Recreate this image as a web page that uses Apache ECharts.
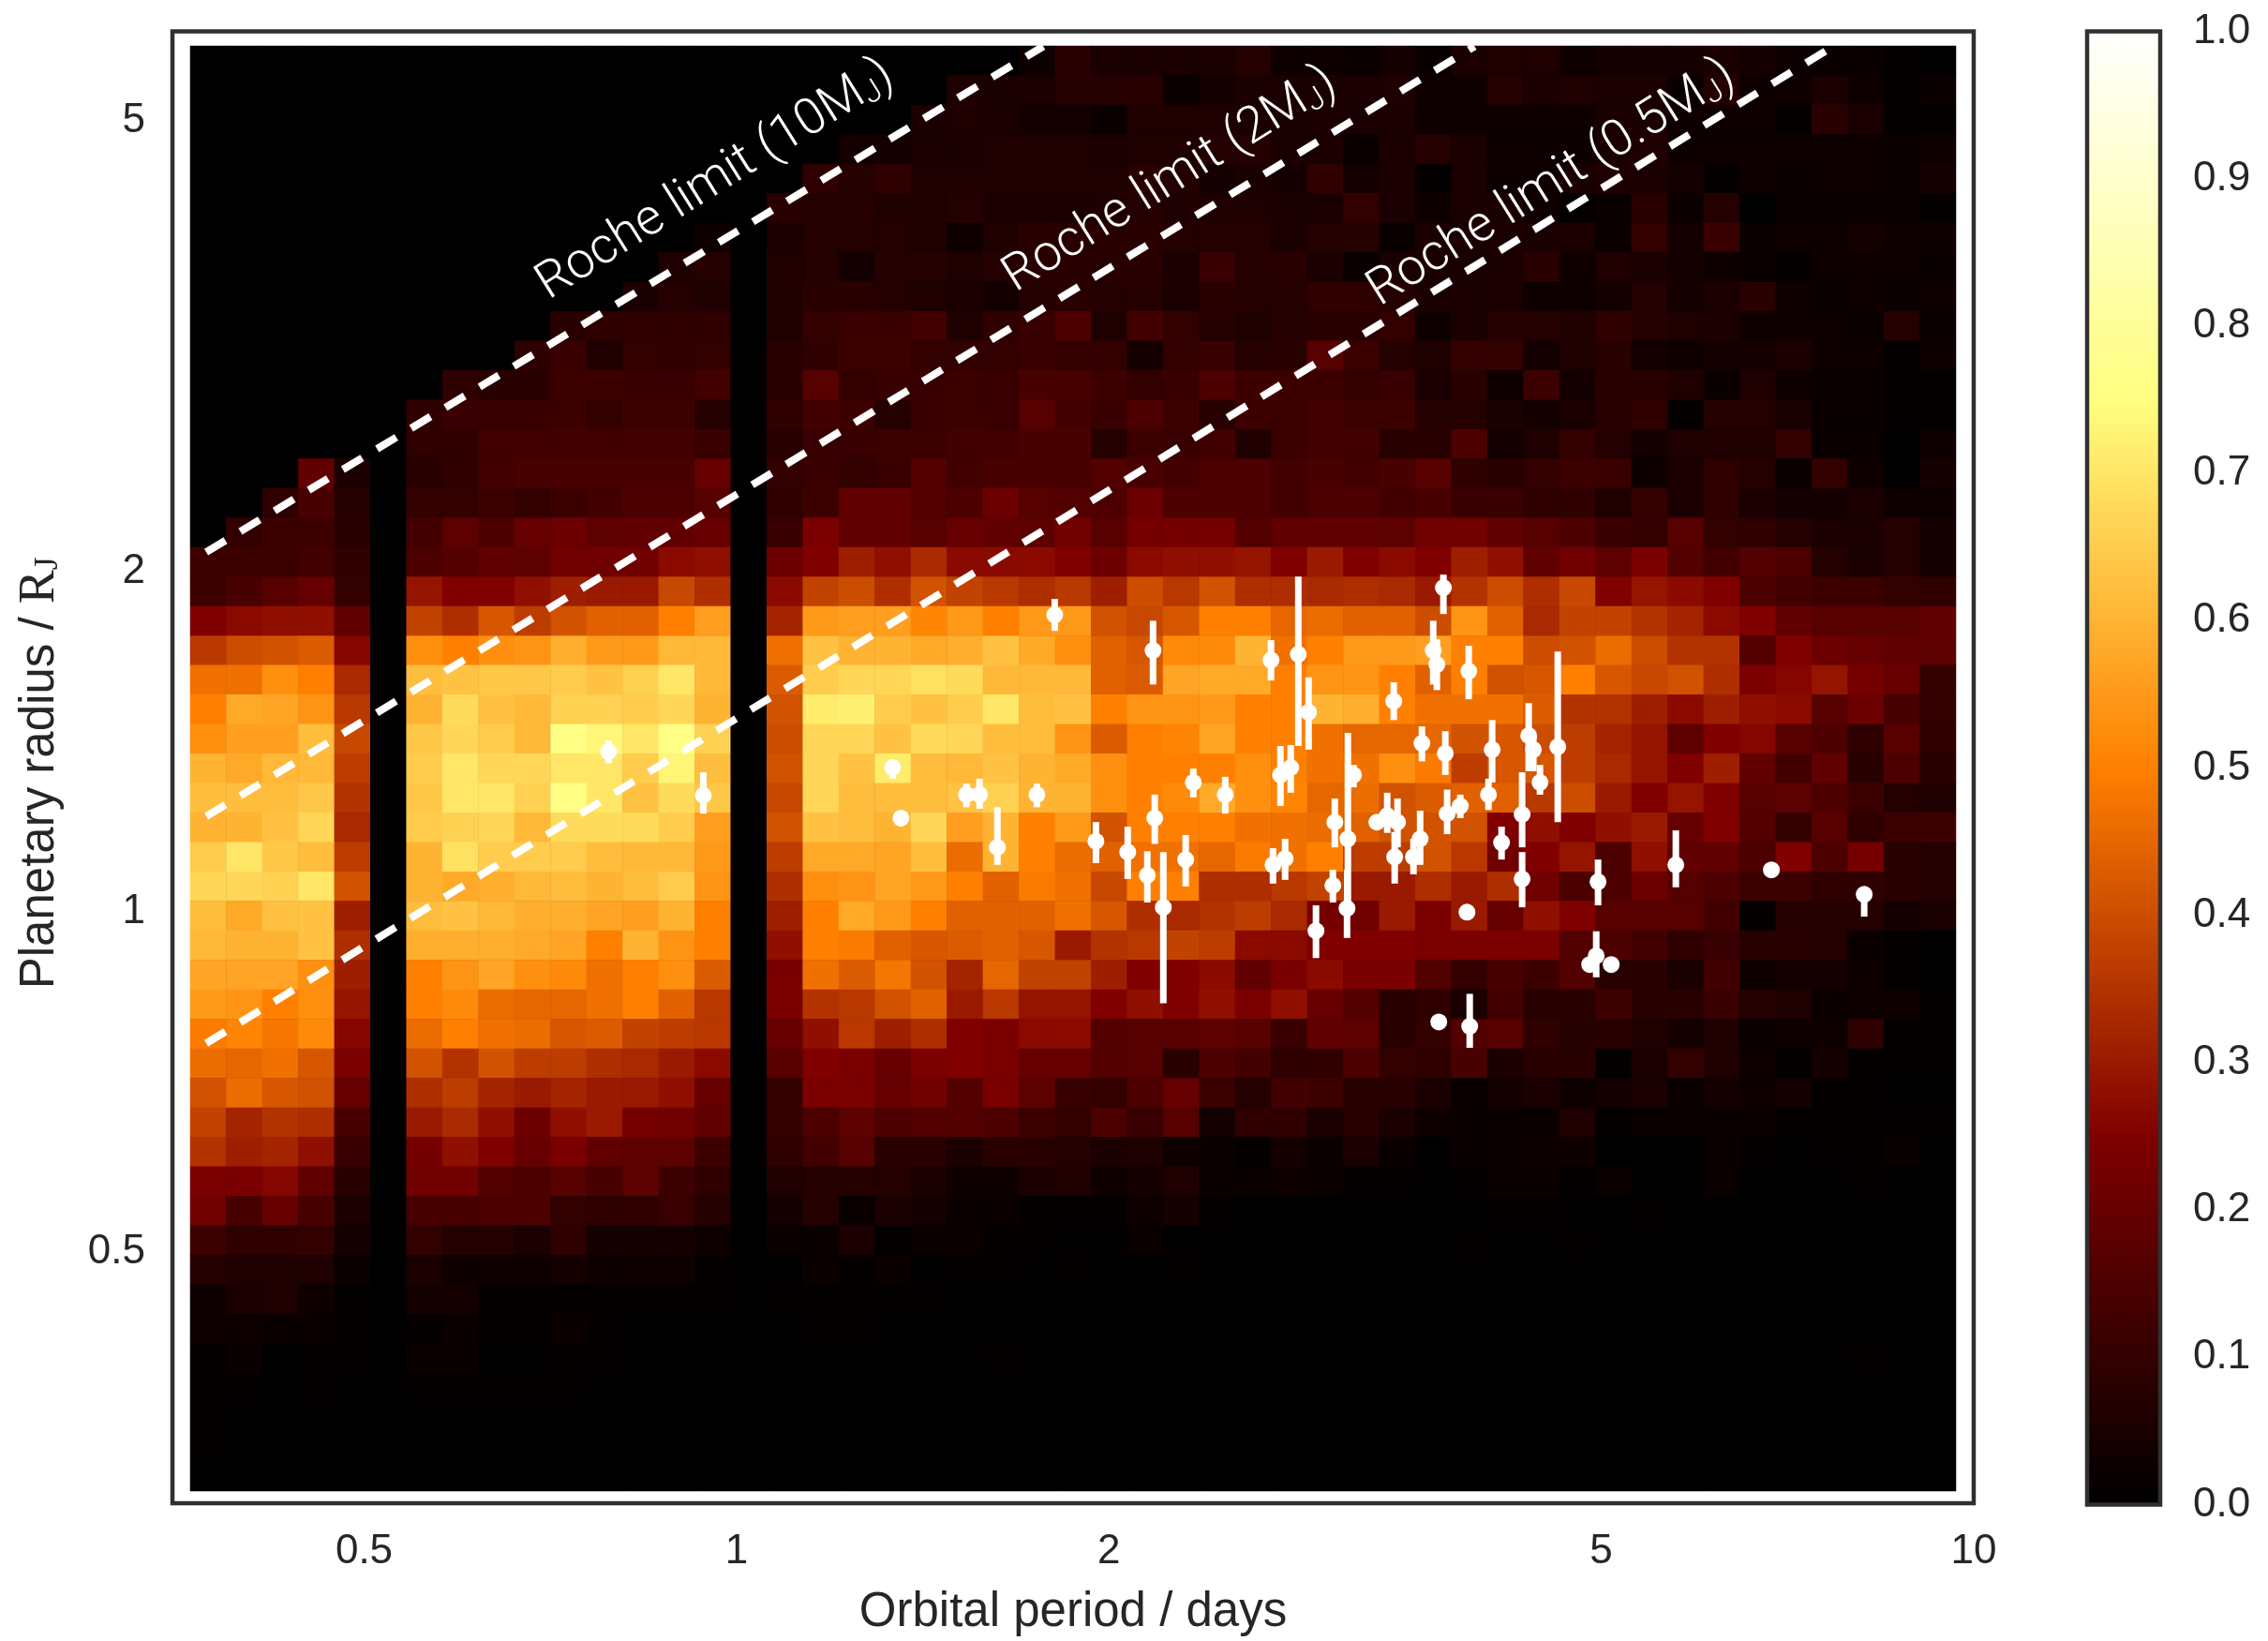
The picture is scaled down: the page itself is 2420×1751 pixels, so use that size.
<!DOCTYPE html>
<html><head><meta charset="utf-8">
<style>html,body{margin:0;padding:0;background:#fff}#c{width:2420px;height:1751px}</style>
<script src="https://cdn.jsdelivr.net/npm/echarts@6/dist/echarts.min.js"></script>
</head><body><div id="c"></div>
<script>
// Normalised density x100, one row per radius bin (top row first), one column per period bin
const densityRows = [
[0,0,0,0,0,0,0,0,0,0,0,0,0,0,0,0,0,0,0,0,0,0,0,3,8,5,5,5,5,7,3,3,2,4,2,5,6,6,3,4,4,4,5,4,3,2,2,1,0],
[0,0,0,0,0,0,0,0,0,0,0,0,0,0,0,0,0,0,0,0,0,6,5,5,7,7,8,2,4,5,5,5,5,6,3,3,7,5,6,5,5,2,7,3,3,5,3,1,2],
[0,0,0,0,0,0,0,0,0,0,0,0,0,0,0,0,0,0,0,0,5,6,5,4,4,2,6,6,6,5,5,5,5,5,3,3,3,3,3,5,5,3,3,3,1,8,5,1,1],
[0,0,0,0,0,0,0,0,0,0,0,0,0,0,0,0,0,0,4,4,5,5,6,6,6,5,6,6,7,7,5,5,2,5,7,5,3,3,3,5,6,3,3,3,3,3,3,2,3],
[0,0,0,0,0,0,0,0,0,0,0,0,0,0,0,0,0,9,7,9,6,6,6,6,6,6,8,7,4,5,4,9,4,5,1,5,3,3,5,6,5,4,1,3,2,3,3,2,4],
[0,0,0,0,0,0,0,0,0,0,0,0,0,0,0,0,8,7,7,6,6,7,5,5,5,6,7,6,6,6,5,5,10,5,3,5,5,3,1,2,8,2,7,0,2,2,2,2,1],
[0,0,0,0,0,0,0,0,0,0,0,0,0,0,3,0,5,7,7,7,6,3,6,8,8,8,8,7,7,7,5,7,7,2,5,5,5,5,5,2,10,4,11,2,3,3,4,3,3],
[0,0,0,0,0,0,0,0,0,0,0,0,0,6,7,0,6,7,4,7,7,6,7,8,8,8,8,5,11,7,8,5,2,5,5,5,5,8,3,6,5,4,3,2,1,3,3,3,2],
[0,0,0,0,0,0,0,0,0,0,0,0,5,7,6,0,6,8,8,7,6,5,4,7,8,7,7,5,8,7,7,9,9,7,5,5,5,3,3,4,7,4,5,8,3,2,3,2,3],
[0,0,0,0,0,0,0,0,0,0,8,9,9,9,9,0,6,10,11,11,13,6,9,11,15,6,13,10,7,6,7,8,8,10,3,5,7,7,6,9,7,6,5,3,3,3,2,7,2],
[0,0,0,0,0,0,0,0,0,9,11,6,10,9,10,0,8,9,12,12,10,10,10,11,10,10,4,10,11,7,8,17,12,7,6,10,10,4,6,8,4,3,4,4,5,3,3,1,3],
[0,0,0,0,0,0,0,9,8,8,12,12,11,11,13,0,8,17,10,11,11,12,11,14,14,12,10,11,15,12,12,12,10,11,5,8,3,12,4,8,8,6,2,6,3,2,2,1,1],
[0,0,0,0,0,0,9,11,11,11,12,10,12,12,7,0,9,13,12,7,11,12,11,17,13,11,15,12,8,12,12,13,12,12,7,7,5,4,5,8,9,1,7,7,5,2,2,1,1],
[0,0,0,0,0,0,9,9,13,13,13,13,13,13,11,0,8,11,11,12,12,13,13,14,14,7,12,11,13,6,12,13,13,8,8,15,4,6,10,7,4,6,6,6,10,2,2,0,3],
[0,0,0,19,5,0,8,9,13,14,14,14,14,14,20,0,10,11,10,11,16,13,14,14,14,16,14,13,15,15,13,14,13,14,17,9,8,10,12,11,3,5,9,7,2,10,3,0,4],
[0,0,9,14,7,0,10,10,12,10,12,13,15,15,17,0,9,12,19,19,16,15,21,17,16,15,21,15,15,15,13,15,15,13,14,11,11,9,9,6,10,5,9,5,4,4,5,3,3],
[0,10,12,12,8,0,13,18,15,20,21,18,19,19,20,0,11,24,19,19,17,20,19,18,22,17,23,23,23,16,19,19,19,18,22,22,19,17,15,11,10,17,10,9,7,5,5,7,4],
[12,12,12,13,9,0,15,16,19,18,22,22,22,27,28,0,21,25,31,28,33,27,27,27,25,21,27,28,28,29,25,30,25,27,25,31,28,19,22,18,24,16,13,16,15,7,5,7,4],
[12,14,17,20,10,0,29,25,25,28,31,30,30,39,34,0,27,38,40,34,41,38,36,34,36,31,40,36,41,34,34,33,34,33,30,35,40,34,39,25,29,27,25,15,13,12,12,10,9],
[25,27,28,28,19,0,38,34,42,37,41,44,44,50,56,0,32,55,56,56,51,55,50,55,55,41,39,42,50,50,45,46,44,44,40,54,44,33,38,38,35,32,27,25,19,17,17,17,19],
[36,40,41,43,26,0,53,50,53,54,59,55,55,61,61,0,47,63,60,60,58,59,63,58,53,44,42,52,52,60,47,50,55,55,56,50,50,40,41,46,40,35,35,16,25,21,20,19,18],
[47,47,53,50,33,0,62,63,64,64,65,63,66,70,61,0,43,65,67,67,69,68,61,61,61,44,43,57,58,58,50,54,54,50,44,50,41,42,50,42,39,41,34,24,26,29,23,20,10],
[50,58,57,54,36,0,60,68,63,61,66,66,65,67,60,0,41,71,72,65,63,65,70,62,63,50,54,54,55,50,50,60,59,50,47,47,47,43,35,35,31,27,31,28,27,17,21,14,10],
[53,56,56,62,39,0,64,67,65,61,76,73,70,76,66,0,40,67,67,63,68,67,62,62,54,43,50,51,57,50,50,47,45,45,45,41,42,40,37,32,29,18,25,26,17,15,9,17,9],
[60,58,61,61,37,0,65,70,67,67,70,70,65,73,62,0,41,67,63,71,62,61,63,60,58,53,50,50,50,53,50,47,47,53,49,37,42,42,37,33,29,25,31,19,13,19,8,15,8],
[62,62,62,64,35,0,64,70,70,66,76,70,63,68,64,0,39,67,62,62,62,63,66,60,60,53,50,52,58,53,51,45,46,41,43,44,44,36,40,30,25,29,25,17,18,15,12,7,6],
[60,60,63,67,33,0,65,66,67,61,68,68,68,65,56,0,41,63,62,60,67,56,60,50,55,41,50,50,50,47,47,46,44,41,41,41,25,28,25,28,30,20,25,16,10,17,9,12,12],
[65,70,64,62,37,0,60,69,65,65,65,62,61,61,55,0,37,58,58,57,62,46,60,50,46,44,47,47,45,49,47,50,37,37,41,36,22,25,29,15,28,19,19,15,25,15,23,8,7],
[67,67,66,70,41,0,60,58,59,61,62,60,62,65,54,0,34,53,54,57,55,50,44,49,47,39,50,50,34,34,36,38,30,30,34,30,34,22,15,15,21,17,15,12,12,9,9,8,7],
[62,58,63,63,31,0,62,63,61,59,59,57,56,60,50,0,31,50,58,55,50,44,44,44,47,42,34,33,35,37,33,23,22,30,24,30,20,28,25,17,17,17,13,1,7,7,7,4,5],
[61,60,60,63,34,0,59,59,59,58,57,50,60,54,50,0,28,50,49,44,42,43,44,42,30,35,36,38,37,27,27,25,25,25,24,24,24,24,16,15,13,9,11,8,8,7,2,1,0],
[57,57,57,53,31,0,50,54,57,53,52,47,50,53,43,0,24,47,43,48,41,32,45,38,38,31,25,25,27,19,24,27,24,24,16,10,14,12,16,8,8,5,13,3,4,4,3,1,0],
[55,54,50,53,29,0,50,52,46,45,45,47,50,44,36,0,24,35,36,41,44,30,36,29,29,25,28,25,28,24,28,20,16,8,9,5,13,8,8,12,8,8,11,7,6,2,3,3,1],
[49,51,48,52,26,0,46,50,47,46,42,43,38,37,36,0,20,28,36,31,34,25,24,27,27,16,17,17,18,17,11,19,18,8,10,16,17,9,7,8,6,4,6,2,3,3,9,1,1],
[46,45,47,42,24,0,41,35,41,37,37,34,33,30,27,0,17,25,24,20,24,25,24,20,20,16,17,8,15,13,9,9,15,10,9,14,5,8,8,1,5,10,6,3,1,4,1,1,1],
[41,46,42,41,20,0,34,37,32,30,32,30,30,28,20,0,10,24,24,20,22,16,24,18,11,10,15,20,12,7,13,12,8,8,5,2,4,5,3,4,5,2,4,3,4,1,1,0,0],
[38,32,35,34,14,0,30,33,28,21,28,30,23,22,19,0,10,15,18,15,16,16,15,12,10,15,11,17,4,9,9,5,8,5,3,2,2,2,6,1,2,2,2,2,1,1,1,1,1],
[35,31,32,28,11,0,23,28,25,20,24,19,18,18,12,0,9,13,17,8,8,5,8,8,7,5,6,3,2,1,4,2,5,2,0,2,2,3,3,0,0,0,2,1,0,1,1,2,0],
[24,24,26,19,8,0,22,22,16,15,17,14,18,12,9,0,6,7,7,7,5,3,3,5,6,3,4,6,2,2,3,2,1,1,0,1,2,2,1,2,0,0,2,0,0,0,1,0,0],
[22,14,20,14,5,0,14,14,15,15,10,9,9,11,7,0,4,7,2,5,4,2,2,1,1,1,3,4,1,0,0,0,0,0,0,0,1,1,0,0,1,0,0,0,0,0,0,0,0],
[12,9,9,10,4,0,10,7,7,5,9,4,4,4,3,0,2,2,5,1,2,2,1,1,0,0,2,0,0,0,0,0,0,0,0,1,0,0,1,0,0,0,0,0,0,0,0,0,0],
[7,6,6,6,2,0,5,3,3,3,4,3,3,3,1,0,0,2,1,2,0,1,1,0,1,0,0,1,0,0,0,0,0,0,0,0,0,0,0,0,0,0,0,0,0,0,0,0,0],
[3,5,6,3,1,0,4,4,1,1,1,1,1,1,1,0,1,1,1,1,1,0,0,0,0,0,0,0,0,0,0,0,0,0,0,0,0,0,0,0,0,0,0,0,0,0,0,0,0],
[3,3,2,2,1,0,1,2,1,1,2,1,0,0,0,0,0,1,1,0,0,0,0,0,0,0,0,0,0,0,0,0,0,0,0,0,0,0,0,0,0,0,0,0,0,0,0,0,0],
[1,2,0,1,1,0,2,2,0,0,1,1,0,0,0,0,0,0,0,0,0,0,1,0,0,0,0,0,0,0,0,0,0,0,0,0,0,0,0,0,0,0,0,0,0,0,1,0,0],
[1,1,0,1,0,0,1,1,1,1,1,0,0,0,0,0,0,0,0,0,0,0,0,0,0,0,0,0,0,0,0,0,0,0,0,0,0,0,0,0,0,0,0,0,0,0,0,0,0],
[1,0,0,0,0,0,0,0,0,0,0,0,0,0,0,0,0,0,0,0,0,0,0,0,0,0,0,0,0,0,0,0,0,0,0,0,0,0,0,0,0,0,0,0,0,0,0,0,0],
[1,0,0,0,0,0,0,0,0,0,0,0,0,0,0,0,0,0,0,0,0,0,0,0,0,0,0,0,0,0,0,0,0,0,0,0,0,0,0,0,0,0,0,0,0,0,0,0,0],
[0,0,0,0,0,0,0,0,0,0,0,0,0,0,0,0,0,0,0,0,0,0,0,0,0,0,0,0,0,0,0,0,0,0,0,0,0,0,0,0,0,0,0,0,0,0,0,0,0]
];
// Planets: orbital period (days), radius (R_J), lower and upper radius error-bar ends
const planetPeriod = [.788,.940,1.808,2.171,2.704,2.845,2.900,3.398,3.657,3.682,3.727,3.581,3.740,1.337,1.358,1.534,1.572,1.749,1.625,1.952,2.071,2.178,2.148,2.213,2.307,2.340,2.483,2.714,2.776,2.752,2.805,3.153,3.045,3.120,3.115,3.034,2.940,3.293,3.357,3.422,3.404,3.525,3.569,3.753,3.695,3.907,4.081,4.368,4.406,4.461,4.611,4.053,3.846,4.315,4.153,4.315,3.894,4.970,5.744,6.862,8.156,4.953,4.893,5.093,3.914];
const planetRadius = [1.385,1.267,1.830,1.702,1.669,1.689,1.501,1.535,1.702,1.654,1.934,1.409,1.380,1.341,1.210,1.269,1.269,1.269,1.140,1.154,1.129,1.210,1.077,1.009,1.112,1.301,1.269,1.100,1.114,1.321,1.341,1.321,1.200,1.160,1.007,1.055,.962,1.200,1.216,1.200,1.118,1.118,1.160,1.221,.799,1.632,1.391,1.431,1.391,1.301,1.399,1.269,1.240,1.219,1.151,1.069,.999,1.063,1.100,1.089,1.036,.914,.898,.898,.792];
const radiusLow = [1.353,1.221,1.771,1.588,1.601,1.401,1.391,1.477,1.588,1.570,1.833,1.358,1.321,1.311,1.210,1.237,1.233,1.237,1.100,1.104,1.069,1.148,1.019,.830,1.053,1.262,1.221,1.059,1.067,1.240,1.274,1.288,1.140,1.017,.948,1.019,.910,1.200,1.174,1.140,1.059,1.079,1.100,1.171,.799,1.541,1.301,1.331,1.331,1.269,1.200,1.230,1.210,1.140,1.112,1.009,.999,1.013,1.051,1.089,.990,.875,.898,.898,.758];
const radiusHigh = [1.417,1.328,1.890,1.808,1.738,1.978,1.611,1.595,1.808,1.741,1.986,1.458,1.444,1.353,1.210,1.298,1.311,1.298,1.237,1.200,1.189,1.269,1.131,1.129,1.169,1.338,1.316,1.138,1.160,1.401,1.404,1.348,1.259,1.439,1.089,1.089,1.013,1.200,1.274,1.259,1.176,1.160,1.228,1.282,.799,1.718,1.477,1.529,1.431,1.348,1.698,1.311,1.269,1.328,1.189,1.129,.999,1.112,1.180,1.089,1.036,.961,.898,.898,.846];
// Roche limit lines: [period, radius] at both ends
const roche10 = [[.3727,2.079],[1.770,5.82]];
const roche2 = [[.3727,1.214],[3.95,5.82]];
const roche05 = [[.3727,.765],[7.70,5.82]];
const rocheLabelPeriod = [.962,2.243,4.56];
const rocheLabelRadius = [4.43,4.43,4.40];
const rocheLabelMass = ['10','2','0.5'];
const periodTicks = [.5,1,2,5,10];
const radiusTicks = [.5,1,2,5];
const afmhot = ['#000000','#800000','#ff8000','#ffff80','#ffffff'];

const textColor = '#262626', font = 'Liberation Sans';
const cells = [];
densityRows.forEach((row, r) => row.forEach((v, c) => cells.push([c, densityRows.length - 1 - r, v / 100])));
const colIdx = densityRows[0].map((_, i) => String(i));
const rowIdx = densityRows.map((_, i) => String(i));
const frame = { show: true, backgroundColor: 'transparent', borderColor: '#303030', borderWidth: 4.5 };

const chart = echarts.init(document.getElementById('c'), null, { renderer: 'canvas' });
chart.setOption({
  animation: false,
  backgroundColor: '#fff',
  textStyle: { fontFamily: font, color: textColor },
  grid: [
    { left: 203, top: 49, width: 1884, height: 1542, show: true, backgroundColor: '#000', borderWidth: 0 },
    Object.assign({ left: 184, top: 33.5, width: 1922, height: 1572, z: 5 }, frame),
    Object.assign({ left: 2227, top: 33.5, width: 78, height: 1572, z: 8 }, frame)
  ],
  xAxis: [
    { gridIndex: 0, type: 'category', data: colIdx, show: false },
    { gridIndex: 1, type: 'log', min: .35, max: 10, logBase: 2,
      name: 'Orbital period / days', nameLocation: 'middle', nameGap: 91,
      nameTextStyle: { fontSize: 51, color: textColor, fontFamily: font },
      axisLine: { show: false }, splitLine: { show: false }, minorSplitLine: { show: false },
      axisTick: { show: false },
      axisLabel: { customValues: periodTicks, fontSize: 44, color: textColor, margin: 30, fontFamily: font,
                   showMinLabel: true, showMaxLabel: true, hideOverlap: false, formatter: v => String(v) } },
    { gridIndex: 2, type: 'value', min: 0, max: 1, show: false }
  ],
  yAxis: [
    { gridIndex: 0, type: 'category', data: rowIdx, show: false },
    { gridIndex: 1, type: 'log', min: .3, max: 6, logBase: 2,
      name: 'Planetary radius / {r|R}{j|J}', nameLocation: 'middle', nameRotate: 90, nameGap: 114,
      nameTextStyle: { fontSize: 51, color: textColor, fontFamily: font, padding: [0, 12, 0, 0],
        rich: { r: { fontSize: 54, fontFamily: 'Liberation Serif', color: textColor },
                j: { fontSize: 36, fontFamily: 'Liberation Serif', color: textColor, verticalAlign: 'bottom' } } },
      axisLine: { show: false }, splitLine: { show: false }, minorSplitLine: { show: false },
      axisTick: { show: false },
      axisLabel: { customValues: radiusTicks, fontSize: 44, color: textColor, margin: 29, fontFamily: font,
                   hideOverlap: false, formatter: v => String(v) } },
    { gridIndex: 2, type: 'value', min: 0, max: 1, interval: .1, position: 'right',
      axisLine: { show: false }, axisTick: { show: false }, splitLine: { show: false },
      axisLabel: { fontSize: 44, color: textColor, margin: 35, fontFamily: font, padding: [0, 0, 8, 0],
                   formatter: v => v.toFixed(1) } }
  ],
  visualMap: [{
    type: 'continuous', seriesIndex: 0, min: 0, max: 1, calculable: false, hoverLink: false,
    itemWidth: 78, itemHeight: 1572, left: 2227, top: 33.5, padding: 0, text: null, showLabel: false,
    inRange: { color: afmhot }, z: 4
  }],
  series: [
    { type: 'heatmap', xAxisIndex: 0, yAxisIndex: 0, data: cells, progressive: 0, z: 1,
      itemStyle: { borderWidth: 0 }, emphasis: { disabled: true } },
    ...[roche10, roche2, roche05].map(d => ({
      type: 'line', xAxisIndex: 1, yAxisIndex: 1, data: d, symbol: 'none', z: 3, silent: true,
      lineStyle: { color: '#fff', width: 8, type: [24, 18.6], cap: 'butt', opacity: 1 } })),
    { type: 'custom', xAxisIndex: 1, yAxisIndex: 1, z: 4, silent: true, clip: false,
      data: planetPeriod.map((p, i) => [p, radiusLow[i], radiusHigh[i]]),
      encode: { x: 0, y: [1, 2] },
      renderItem: (params, api) => {
        const a = api.coord([api.value(0), api.value(1)]), b = api.coord([api.value(0), api.value(2)]);
        return { type: 'line', shape: { x1: a[0], y1: a[1], x2: b[0], y2: b[1] },
                 style: { stroke: '#fff', lineWidth: 7, lineCap: 'butt' } };
      } },
    { type: 'scatter', xAxisIndex: 1, yAxisIndex: 1, z: 5, silent: true, symbol: 'circle', symbolSize: 18,
      itemStyle: { color: '#fff', opacity: 1 }, data: planetPeriod.map((p, i) => [p, planetRadius[i]]) },
    { type: 'scatter', xAxisIndex: 1, yAxisIndex: 1, z: 6, silent: true, symbol: 'circle', symbolSize: 1,
      itemStyle: { color: 'transparent', opacity: 1 },
      data: rocheLabelPeriod.map((p, i) => ({ value: [p, rocheLabelRadius[i]], mass: rocheLabelMass[i] })),
      label: { show: true, position: 'inside', rotate: 32, align: 'center', verticalAlign: 'middle',
        fontFamily: 'Roboto', fontWeight: 300, fontSize: 54, color: '#fff', opacity: 1,
        formatter: p => 'Roche limit (' + p.data.mass + 'M{j|J})',
        rich: { j: { fontFamily: 'Roboto', fontWeight: 300, fontSize: 33, color: '#fff', verticalAlign: 'bottom' } } } }
  ]
});
</script></body></html>
